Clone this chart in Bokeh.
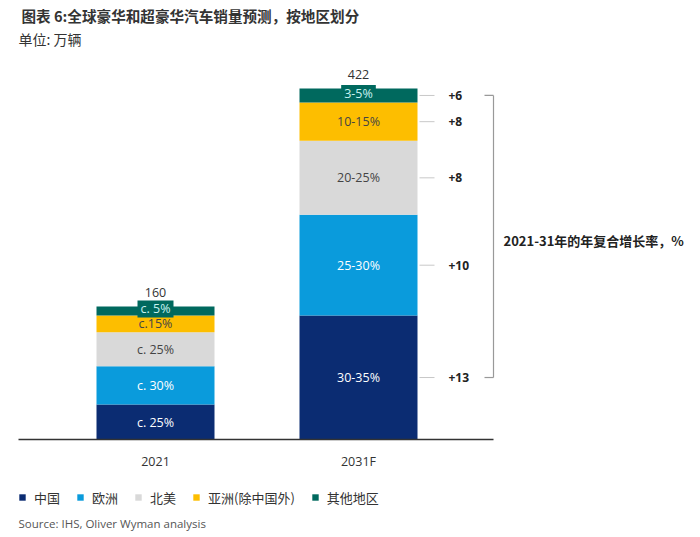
from bokeh.plotting import figure
from bokeh.models import (Range1d, FixedTicker, Label, Legend, LegendItem,
                          ColumnDataSource)
from bokeh.core.properties import value
from bokeh.embed import file_html
from bokeh.resources import INLINE

# ---------------- data ----------------
categories = ["2021", "2031F"]
regions = ["中国", "欧洲", "北美", "亚洲(除中国外)", "其他地区"]
china = [42, 149]
europe = [46, 121]
north_america = [41, 89]
asia_ex_china = [20, 46]
other = [11, 17]
totals = [160, 422]
share_2021 = ["c. 25%", "c. 30%", "c. 25%", "c.15%", "c. 5%"]
share_2031 = ["30-35%", "25-30%", "20-25%", "10-15%", "3-5%"]
cagr_2021_31 = ["+13", "+10", "+8", "+8", "+6"]

title_text = "图表 6:全球豪华和超豪华汽车销量预测，按地区划分"
unit_text = "单位: 万辆"
cagr_text = "2021-31年的年复合增长率，%"
source_text = "Source: IHS, Oliver Wyman analysis"

colors = ["#0B2C72", "#0A9BDC", "#D9D9D9", "#FDBE00", "#00695E"]
label_colors = ["#FFFFFF", "#FFFFFF", "#444444", "#444444", "#C8F2F0"]

CJK = "Noto Sans CJK SC"
LAT = "Open Sans"
W, H = 700, 537
BASE = 439                  # pixel row of the value 0
X_C0 = 155                  # pixel column of first category
X_STEP = 203                # pixels between categories
PX = 1 / X_STEP             # data units per pixel (x)
X0 = -X_C0 * PX
X1 = X0 + W * PX
SCALE = 0.832               # pixels per unit (y)
PY = 1 / SCALE
Y_TOP = BASE / SCALE
Y_BOT = -(H - BASE) / SCALE
BAR_W = 118 * PX

p = figure(width=W, height=H, x_range=Range1d(X0, X1), y_range=Range1d(Y_BOT, Y_TOP),
           output_backend="svg", toolbar_location=None, y_axis_location=None,
           min_border_left=0, min_border_right=0, min_border_top=0,
           min_border_bottom=0)
p.outline_line_color = None
p.grid.visible = False
p.background_fill_color = "white"
p.border_fill_color = "white"

xs = list(range(len(categories)))
keys = ["china", "europe", "north_america", "asia", "other"]
series = [china, europe, north_america, asia_ex_china, other]
src = ColumnDataSource(dict(x=xs, **{k: v for k, v in zip(keys, series)}))
bars = p.vbar_stack(keys, x="x", width=BAR_W, color=colors, line_color=None, source=src)

# segment labels
lab_x, lab_y, lab_t, lab_c = [], [], [], []
teal_x, teal_y, teal_t = [], [], []
shares = [share_2021, share_2031]
for ci, cx in enumerate(xs):
    bottom = 0
    for si, s in enumerate(series):
        mid = bottom + s[ci] / 2
        if si == len(series) - 1:
            teal_x.append(cx); teal_y.append(mid); teal_t.append(shares[ci][si])
        else:
            lab_x.append(cx); lab_y.append(mid); lab_t.append(shares[ci][si]); lab_c.append(label_colors[si])
        bottom += s[ci]

p.text(x=lab_x, y=lab_y, text=lab_t, text_color=lab_c, text_align="center",
       text_baseline="middle", text_font=value(LAT), text_font_size="12.5px")
p.text(x=teal_x, y=teal_y, text=teal_t, text_color=label_colors[-1], text_align="center",
       text_baseline="middle", text_font=value(LAT), text_font_size="12.5px",
       y_offset=-2, background_fill_color=colors[-1],
       padding=dict(left=3, right=3, top=0, bottom=0))

# totals
p.text(x=xs, y=totals, text=[str(t) for t in totals], text_align="center",
       text_baseline="bottom", y_offset=-9, text_color="#333333",
       text_font=value(LAT), text_font_size="12.5px")

# CAGR connectors and labels (for 2031F)
fx = xs[-1]
mids = []
bottom = 0
for s in series:
    mids.append(bottom + s[-1] / 2)
    bottom += s[-1]
edge = fx + BAR_W / 2
p.segment(x0=[edge + 2 * PX] * len(mids), x1=[edge + 17 * PX] * len(mids),
          y0=mids, y1=mids, line_color="#C8C8C8", line_width=1)
p.text(x=[edge + 31 * PX] * len(mids), y=mids, text=cagr_2021_31, text_align="left",
       text_baseline="middle", text_color="#222222", text_font=value(LAT),
       text_font_size="12px", text_font_style="bold")

# bracket
bx = edge + 76 * PX
top_m, bot_m = max(mids), min(mids)
p.segment(x0=[bx, bx - 9 * PX, bx - 9 * PX], x1=[bx, bx, bx],
          y0=[bot_m, top_m, bot_m], y1=[top_m, top_m, bot_m],
          line_color="#999999", line_width=1.2)
p.text(x=[bx + 10 * PX], y=[(top_m + bot_m) / 2 - 4 * PY], text=[cagr_text], text_align="left",
       text_baseline="middle", text_color="#222222", text_font=value(CJK),
       text_font_size="13px", text_font_style="bold")

# x axis, pinned at value 0
ax = p.xaxis[0]
ax.fixed_location = 0
ax.ticker = FixedTicker(ticks=xs)
ax.major_label_overrides = {i: c for i, c in zip(xs, categories)}
ax.major_tick_line_color = None
ax.minor_tick_line_color = None
ax.axis_line_color = "#333333"
ax.axis_line_width = 1.3
ax.bounds = (X0 + 18 * PX, X0 + 493 * PX)
ax.major_label_text_font = LAT
ax.major_label_text_font_size = "12.5px"
ax.major_label_text_color = "#333333"
ax.major_label_standoff = 7

# titles
p.add_layout(Label(x=21, y=H - 15, x_units="screen", y_units="screen", text=title_text,
                   text_font=CJK, text_font_size="14.6px", text_font_style="bold",
                   text_color="#333333", text_baseline="middle"))
p.add_layout(Label(x=18, y=H - 38, x_units="screen", y_units="screen", text=unit_text,
                   text_font=CJK, text_font_size="14px", text_color="#333333",
                   text_baseline="middle"))
p.add_layout(Label(x=18, y=H - 523, x_units="screen", y_units="screen", text=source_text,
                   text_font=LAT, text_font_size="11.5px", text_color="#555555",
                   text_baseline="middle"))

legend = Legend(items=[LegendItem(label=r, renderers=[b]) for r, b in zip(regions, bars)],
                location=(18, H - 507), orientation="horizontal", padding=0, margin=0,
                border_line_color=None, background_fill_alpha=0,
                glyph_width=8, glyph_height=8, label_standoff=8, spacing=16,
                label_height=20, label_text_font=CJK, label_text_font_size="13px",
                label_text_color="#333333")
p.add_layout(legend)

open("out.html", "w").write(file_html(p, INLINE))
